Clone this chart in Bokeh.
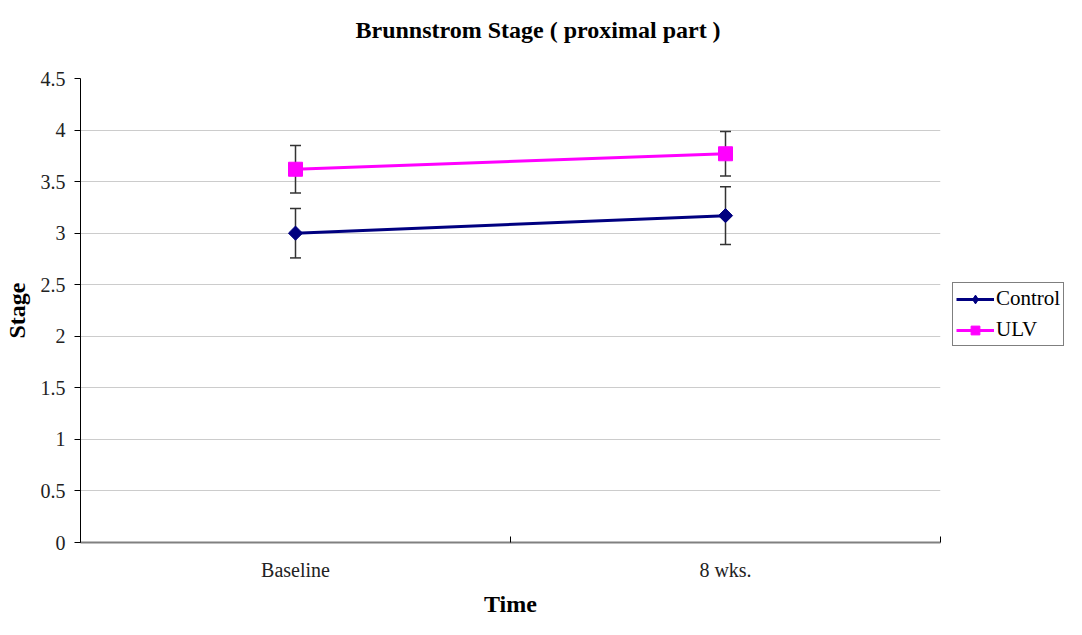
import math
from bokeh.plotting import figure
from bokeh.layouts import row
from bokeh.models import ColumnDataSource, Whisker, TeeHead, FixedTicker, Legend, LegendItem, Range1d, Title
from bokeh.embed import file_html
from bokeh.resources import INLINE

# ---- data ----
categories = ["Baseline", "8 wks."]
control_mean = [3.00, 3.17]
control_err = [0.24, 0.28]
ulv_mean = [3.62, 3.77]
ulv_err = [0.23, 0.215]
y_ticks = [0, 0.5, 1, 1.5, 2, 2.5, 3, 3.5, 4, 4.5]
title_text = "Brunnstrom Stage ( proximal part )"

xpos = [i + 0.5 for i in range(len(categories))]

FONT = "Liberation Serif"
C_CTRL = "#000080"
C_ULV = "#FF00FF"

p = figure(width=942, height=619, output_backend="svg", toolbar_location=None,
           x_range=Range1d(0, len(categories)), y_range=Range1d(0, 4.5),
           min_border_left=80, min_border_right=2, min_border_top=78, min_border_bottom=76)
p.outline_line_color = None
p.background_fill_color = "white"

# a blank second line lifts the title away from the frame
p.title = Title(text=title_text + "\n\u00a0", align="left", offset=275, standoff=20,
                text_font=FONT, text_font_size="24px", text_font_style="bold", text_color="black")

# axes
p.xaxis.ticker = FixedTicker(ticks=xpos, minor_ticks=list(range(len(categories) + 1)))
p.xaxis.major_label_overrides = {x: c for x, c in zip(xpos, categories)}
p.xaxis.major_tick_in = 0
p.xaxis.major_tick_out = 0
p.xaxis.minor_tick_in = 6
p.xaxis.minor_tick_out = 0
p.xaxis.minor_tick_line_color = "black"
p.xaxis.axis_line_color = "#808080"
p.xaxis.axis_line_width = 2
p.xaxis.major_label_standoff = 16
p.xaxis.axis_label = "Time"
p.xaxis.axis_label_standoff = 7

p.yaxis.ticker = FixedTicker(ticks=y_ticks, minor_ticks=[])
p.yaxis.major_label_overrides = {t: ("%g" % t) for t in y_ticks}
p.yaxis.major_tick_in = 0
p.yaxis.major_tick_out = 6
p.yaxis.major_tick_line_color = "black"
p.yaxis.axis_line_color = "black"
p.yaxis.major_label_standoff = 9
p.yaxis.axis_label = "Stage"
p.yaxis.axis_label_standoff = 8

for ax in (p.xaxis, p.yaxis):
    ax.major_label_text_font = FONT
    ax.major_label_text_font_size = "20px"
    ax.major_label_text_color = "#222222"
    ax.axis_label_text_font = FONT
    ax.axis_label_text_font_size = "24px"
    ax.axis_label_text_font_style = "bold"
    ax.axis_label_text_color = "black"

p.xgrid.visible = False
p.ygrid.ticker = FixedTicker(ticks=y_ticks)
p.ygrid.grid_line_color = "#cccccc"

# data sources
src_c = ColumnDataSource(dict(x=xpos, y=control_mean,
                              lo=[m - e for m, e in zip(control_mean, control_err)],
                              hi=[m + e for m, e in zip(control_mean, control_err)]))
src_u = ColumnDataSource(dict(x=xpos, y=ulv_mean,
                              lo=[m - e for m, e in zip(ulv_mean, ulv_err)],
                              hi=[m + e for m, e in zip(ulv_mean, ulv_err)]))

for src in (src_c, src_u):
    w = Whisker(source=src, base="x", upper="hi", lower="lo", line_color="#333333", line_width=1.5,
                upper_head=TeeHead(size=11, line_color="#333333", line_width=1.5),
                lower_head=TeeHead(size=11, line_color="#333333", line_width=1.5))
    p.add_layout(w)

p.line("x", "y", source=src_c, line_color=C_CTRL, line_width=3)
p.scatter("x", "y", source=src_c, marker="square", size=10, angle=math.pi / 4,
          fill_color=C_CTRL, line_color=C_CTRL)
p.line("x", "y", source=src_u, line_color=C_ULV, line_width=3)
p.scatter("x", "y", source=src_u, marker="square", size=14, fill_color=C_ULV, line_color=C_ULV)

# ---- legend panel (separate figure to the right of the plot) ----
# the same series are drawn here outside the visible range, only to feed the legend
q = figure(width=124, height=619, output_backend="svg", toolbar_location=None,
           x_range=Range1d(0, 1), y_range=Range1d(0, 1),
           min_border_left=0, min_border_right=0, min_border_top=0, min_border_bottom=0)
q.axis.visible = False
q.grid.visible = False
q.outline_line_color = None
lc = q.line("x", "y", source=src_c, line_color=C_CTRL, line_width=3)
mc = q.scatter("x", "y", source=src_c, marker="diamond", size=17,
               fill_color=C_CTRL, line_color=C_CTRL)
lu = q.line("x", "y", source=src_u, line_color=C_ULV, line_width=3)
mu = q.scatter("x", "y", source=src_u, marker="square", size=13, fill_color=C_ULV, line_color=C_ULV)

legend = Legend(items=[LegendItem(label="Control", renderers=[lc, mc]),
                       LegendItem(label="ULV", renderers=[lu, mu])],
                location=(10, 196), orientation="vertical",
                border_line_color="black", border_line_width=1,
                label_text_font=FONT, label_text_font_size="21px", label_text_color="black",
                glyph_width=38, glyph_height=22, label_standoff=2, spacing=6,
                padding=3, margin=0, background_fill_alpha=1)
q.add_layout(legend, "center")

layout = row(p, q, spacing=0)
open("out.html", "w").write(file_html(layout, INLINE))
